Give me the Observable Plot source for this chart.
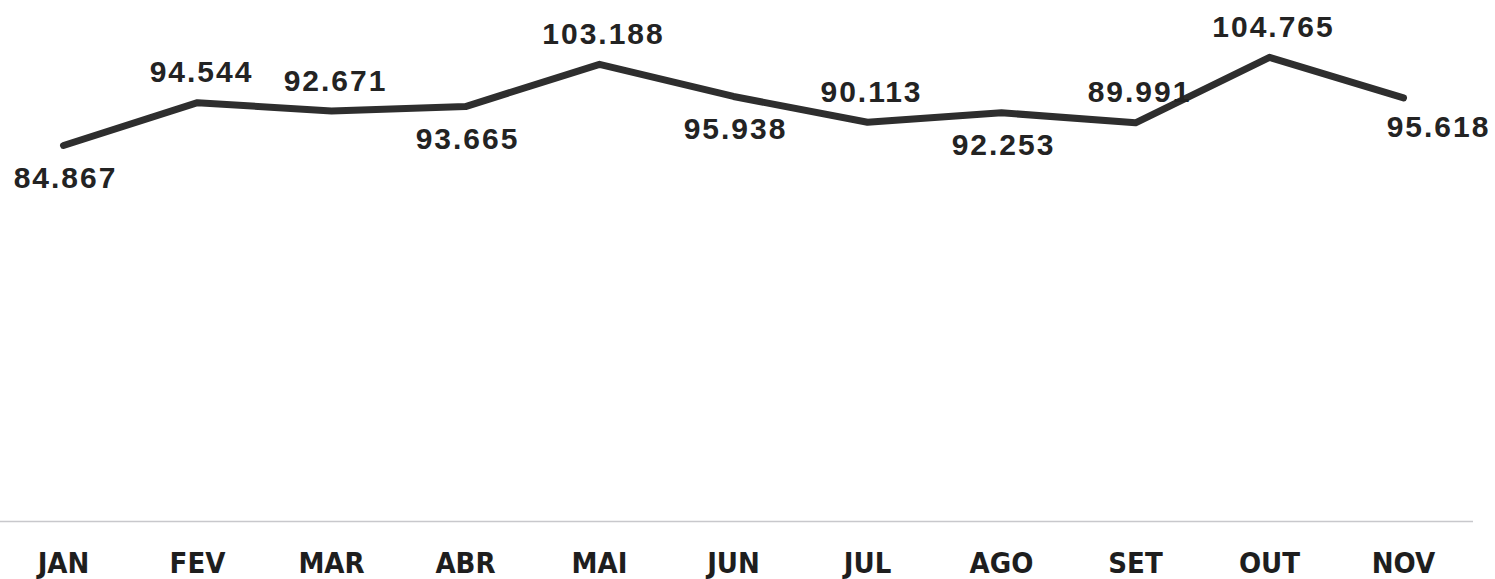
<!DOCTYPE html>
<html>
<head>
<meta charset="utf-8">
<script src="https://cdn.jsdelivr.net/npm/d3@7"></script>
<script src="https://cdn.jsdelivr.net/npm/@observablehq/plot@0.6"></script>
<style>
  html, body { margin: 0; padding: 0; background: #fff; }
  #chart { width: 1495px; height: 579px; overflow: hidden; }
</style>
</head>
<body>
<div id="chart"></div>
<script>
const months = ["JAN", "FEV", "MAR", "ABR", "MAI", "JUN", "JUL", "AGO", "SET", "OUT", "NOV"];
const values = [84.867, 94.544, 92.671, 93.665, 103.188, 95.938, 90.113, 92.253, 89.991, 104.765, 95.618];
const labelText = ["84.867", "94.544", "92.671", "93.665", "103.188", "95.938", "90.113", "92.253", "89.991", "104.765", "95.618"];
const labelSide = ["below", "above", "above", "below", "above", "below", "above", "below", "above", "above", "below-right"];

const data = months.map((m, i) => ({month: m, value: values[i], label: labelText[i], side: labelSide[i]}));

const valueFont = {fontFamily: "'Liberation Sans', Arial, sans-serif", fontWeight: "bold", fontSize: 30, fill: "#232323"};

const chart = Plot.plot({
  width: 1495,
  height: 579,
  marginLeft: 58,
  marginRight: 88,
  marginTop: 0,
  marginBottom: 58,
  x: {type: "point", domain: months, padding: 0, label: null},
  y: {domain: [0, 117.6], axis: null},
  style: {background: "#fff", overflow: "visible"},
  marks: [
    Plot.ruleY([0], {stroke: "#c8c8cc", strokeWidth: 1.5, insetLeft: -58, insetRight: -66}),
    Plot.line(data, {x: "month", y: "value", stroke: "#2e2e2e", strokeWidth: 7, strokeLinejoin: "round", strokeLinecap: "round"}),
    Plot.text(data.filter(d => d.side === "above"), {x: "month", y: "value", text: "label", dy: -30, dx: 4, ...valueFont}),
    Plot.text(data.filter(d => d.side === "below"), {x: "month", y: "value", text: "label", dy: 33, dx: 2, ...valueFont}),
    Plot.text(data.filter(d => d.side === "below-right"), {x: "month", y: "value", text: "label", dy: 30, dx: 35, ...valueFont}),
    Plot.axisX({tickSize: 0, tickPadding: 31, fontSize: 29, fontWeight: "bold", fontFamily: "'Liberation Sans Narrow', 'DejaVu Sans Condensed', Arial, sans-serif", fill: "#1e1e1e", label: null})
  ]
});
chart.querySelectorAll("text").forEach(t => { if (/\d/.test(t.textContent)) t.setAttribute("letter-spacing", "2"); });
document.getElementById("chart").appendChild(chart);
</script>
</body>
</html>
